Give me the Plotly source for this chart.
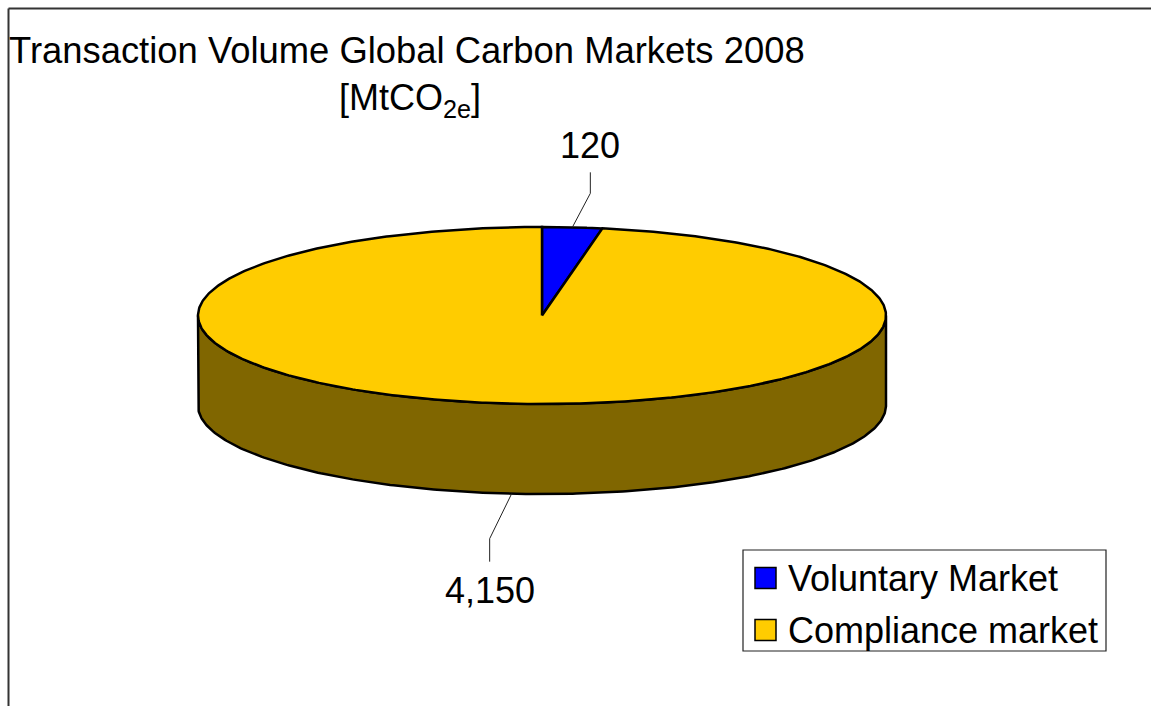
import numpy as np
import plotly.graph_objects as go

# ---- data ----
categories = ["Voluntary Market", "Compliance market"]
values = [120, 4150]
value_labels = ["120", "4,150"]
top_colors = ["#0000FF", "#FFCC00"]
side_colors = ["#000080", "#806600"]
title_line1 = "Transaction Volume Global Carbon Markets 2008"
title_line2 = "[MtCO<sub>2e</sub>]"

# ---- geometry (pixel space) ----
W, H = 1151, 706
cx, cy = 542, 315.5
a, b = 344, 88.5
depth = 90
FONT = "Liberation Sans, Arial, sans-serif"
FS = 36

total = float(sum(values))
fracs = [v / total for v in values]
starts = np.cumsum([0] + fracs[:-1]) * 2 * np.pi
ends = np.cumsum(fracs) * 2 * np.pi


def pt(theta, dz=0.0):
    return cx + a * np.sin(theta), cy - b * np.cos(theta) + dz


fig = go.Figure()

# side wall (front half: theta from pi/2 to 3pi/2)
for i in range(len(values)):
    s = max(starts[i], np.pi / 2)
    e = min(ends[i], 3 * np.pi / 2)
    if e <= s:
        continue
    th = np.linspace(s, e, 300)
    x1, y1 = pt(th)
    x2, y2 = pt(th[::-1], depth)
    xs = np.concatenate([x1, x2, [x1[0]]])
    ys = np.concatenate([y1, y2, [y1[0]]])
    fig.add_trace(go.Scatter(x=xs, y=ys, mode="lines", fill="toself",
                             fillcolor=side_colors[i],
                             line=dict(color="black", width=2.5),
                             hoverinfo="skip", showlegend=False))

# top slices
for i in range(len(values)):
    th = np.linspace(starts[i], ends[i], 600)
    x1, y1 = pt(th)
    xs = np.concatenate([[cx], x1, [cx]])
    ys = np.concatenate([[cy], y1, [cy]])
    fig.add_trace(go.Scatter(x=xs, y=ys, mode="lines", fill="toself",
                             fillcolor=top_colors[i], name=categories[i],
                             line=dict(color="black", width=2.5),
                             hoverinfo="skip", showlegend=False))

# leader lines and labels
label_cfg = [
    # (elbow dx, elbow dy, vertical length, label dy)
    (18, -34, -21, -27),
    (-22, 45, 23, 29),
]
for i in range(len(values)):
    mid = (starts[i] + ends[i]) / 2
    front = np.pi / 2 < mid < 3 * np.pi / 2
    x0, y0 = pt(mid, depth if front else 0)
    dx, dy, vl, ldy = label_cfg[i]
    xe, ye = x0 + dx, y0 + dy
    xv, yv = xe, ye + vl
    fig.add_trace(go.Scatter(x=[x0, xe, xv], y=[y0, ye, yv], mode="lines",
                             line=dict(color="#222222", width=1),
                             hoverinfo="skip", showlegend=False))
    fig.add_annotation(x=xv, y=yv + ldy, text=value_labels[i], showarrow=False,
                       xref="x", yref="y", xanchor="center", yanchor="middle",
                       font=dict(size=FS, color="black", family=FONT))

# legend (drawn as box + swatches + text)
leg_x0, leg_x1, leg_y0, leg_y1 = 743, 1106, 550, 651
row_y = [578, 630]
sw = 21
fig.add_shape(type="rect", x0=leg_x0, x1=leg_x1, y0=leg_y0, y1=leg_y1,
              xref="x", yref="y", line=dict(color="#222222", width=1.2),
              fillcolor="white")
for i in range(len(categories)):
    fig.add_shape(type="rect", x0=755, x1=755 + sw, y0=row_y[i] - sw / 2,
                  y1=row_y[i] + sw / 2, xref="x", yref="y",
                  line=dict(color="black", width=1.5), fillcolor=top_colors[i])
    fig.add_annotation(x=786, y=row_y[i], xref="x", yref="y", text=categories[i],
                       showarrow=False, xanchor="left", yanchor="middle",
                       font=dict(size=FS, color="black", family=FONT))

# title
fig.add_annotation(x=7, y=50, xref="x", yref="y", text=title_line1, showarrow=False,
                   xanchor="left", yanchor="middle",
                   font=dict(size=36.4, color="black", family=FONT))
fig.add_annotation(x=410, y=100, xref="x", yref="y", text=title_line2, showarrow=False,
                   xanchor="center", yanchor="middle",
                   font=dict(size=FS, color="black", family=FONT))

# frame
fig.add_shape(type="line", x0=8.5, y0=8.5, x1=W, y1=8.5, xref="x", yref="y",
              line=dict(color="#333333", width=2))
fig.add_shape(type="line", x0=8.5, y0=8.5, x1=8.5, y1=H, xref="x", yref="y",
              line=dict(color="#333333", width=2))

fig.update_layout(
    width=W, height=H, autosize=False,
    margin=dict(l=0, r=0, t=0, b=0),
    paper_bgcolor="white", plot_bgcolor="white",
    xaxis=dict(range=[0, W], visible=False, fixedrange=True),
    yaxis=dict(range=[H, 0], visible=False, fixedrange=True),
    showlegend=False,
    hovermode=False,
)

fig.write_html("out.html")
